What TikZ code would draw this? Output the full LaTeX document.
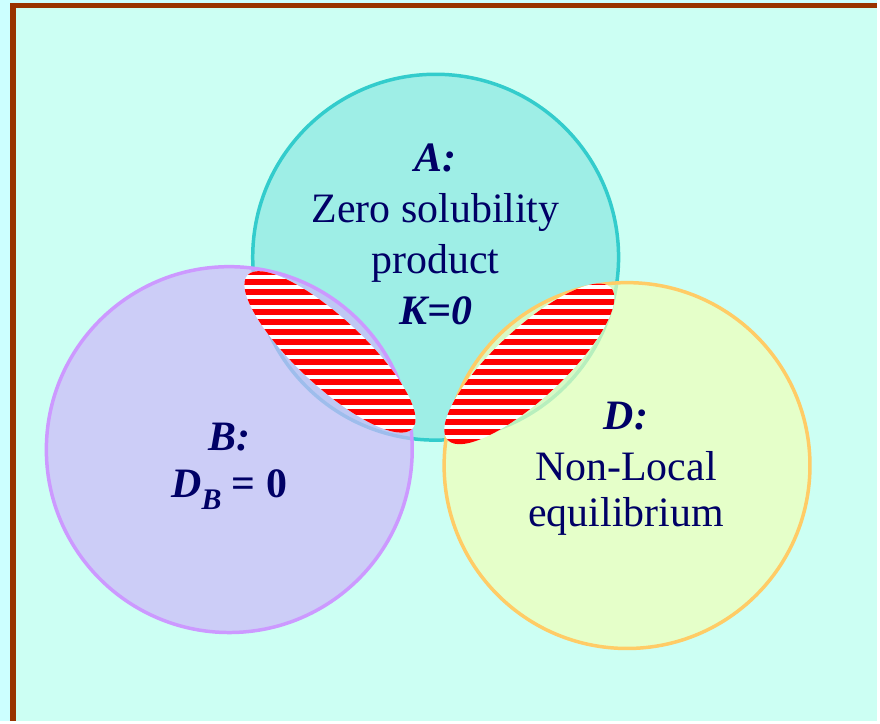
\documentclass[tikz,border=0pt]{standalone}
\usepackage{fontspec}
\setmainfont{Liberation Serif}
\definecolor{outerbg}{RGB}{204,255,255}
\definecolor{innerbg}{RGB}{204,255,243}
\definecolor{framebrown}{RGB}{153,51,0}
\definecolor{navy}{RGB}{0,0,102}
\definecolor{tealfill}{RGB}{158,238,230}
\definecolor{tealline}{RGB}{51,204,204}
\definecolor{lilacfill}{RGB}{204,184,250}
\definecolor{lilacline}{RGB}{204,153,255}
\definecolor{limefill}{RGB}{240,255,184}
\definecolor{limeline}{RGB}{255,204,102}
\definecolor{stripered}{RGB}{255,0,0}
\tikzset{
	setcirc/.style={circle, inner sep=0pt, minimum size=367pt, line width=3.5pt},
	setA/.style={setcirc, draw=tealline, fill=tealfill},
	setB/.style={setcirc, draw=lilacline, fill=lilacfill, fill opacity=0.7},
	setD/.style={setcirc, draw=limeline, fill=limefill, fill opacity=0.7},
	settext/.style={align=center, text=navy, inner sep=0pt, font=\fontsize{42}{51}\selectfont},
	stripes/.style={fill=stripered},
}

\begin{document}
\begin{tikzpicture}[x=1pt, y=-1pt]
		\fill[outerbg] (0,0) rectangle (880,723);
		\fill[innerbg] (13,5.5) rectangle (880,723);
		\draw[framebrown, line width=5.5pt] (13,723) -- (13,5.5) -- (880,5.5);
		\useasboundingbox (0,0) rectangle (880,723);
		\node[setA] (circA) at (437,258) {};
		\node[setB] (circB) at (230,451) {};
		\node[setD] (circD) at (629,467) {};
		\begin{scope}
			\clip[rotate around={-43:(331,353)}] (331,353) ellipse [x radius=113, y radius=34];
			\fill[white] (230,250) rectangle (430,450);
			\foreach \y in {270,280,...,440} \fill[stripes] (230,\y) rectangle (430,\y+6);
		\end{scope}
		\begin{scope}
			\clip[rotate around={43:(531,365)}] (531,365) ellipse [x radius=112, y radius=35];
			\fill[white] (430,270) rectangle (630,460);
			\foreach \y in {270,280,...,450} \fill[stripes] (430,\y) rectangle (630,\y+6);
		\end{scope}
		\node[settext] (txtA) at (437,235) {\textbf{\textit{A:}}\\Zero solubility\\product\\\textbf{\textit{K=0}}};
		\node[settext] (txtB) at (230,468) {\textbf{\textit{B:}}\\[-4pt]\textbf{\textit{D}\raisebox{-12pt}{\fontsize{30}{30}\selectfont\textit{B}} = 0}};
		\node[settext] (txtD) at (628,470) {\textbf{\textit{D:}}\\Non-Local\\[-5pt]equilibrium};
	\end{tikzpicture}
\end{document}
